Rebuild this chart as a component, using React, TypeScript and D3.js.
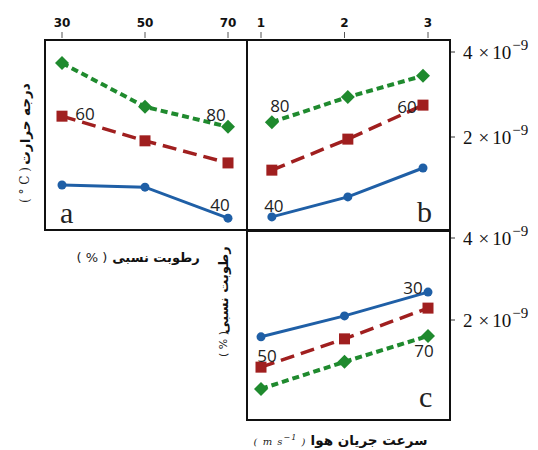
import React from "react";
import * as d3 from "d3";

// Panel a: x = relative humidity (%), series = temperature (°C)
const humidityA = [30, 50, 70];
const a_T40 = [0.87, 0.82, 0.09];
const a_T60 = [2.49, 1.91, 1.39];
const a_T80 = [3.74, 2.71, 2.24];

// Panel b: x = air velocity (m/s), series = temperature (°C)
const velocityB = [1.13, 2.04, 2.94];
const b_T40 = [0.12, 0.59, 1.27];
const b_T60 = [1.22, 1.95, 2.75];
const b_T80 = [2.35, 2.94, 3.44];

// Panel c: x = air velocity (m/s), series = relative humidity (%)
const velocityC = [1, 2, 3];
const c_H30 = [1.59, 2.1, 2.68];
const c_H50 = [0.85, 1.54, 2.29];
const c_H70 = [0.32, 0.98, 1.61];

const topTicksA = [30, 50, 70];
const topTicksB = [1, 2, 3];
const rightTicks = [2, 4]; // ×10^-9

const BLUE = "#1f5fa6";
const RED = "#a01f1f";
const GREEN = "#1f8a2e";

type Style = { color: string; dash: string | null; width: number; marker: "circle" | "square" | "diamond" };
const styleBlue: Style = { color: BLUE, dash: null, width: 3, marker: "circle" };
const styleRed: Style = { color: RED, dash: "14,7", width: 3.5, marker: "square" };
const styleGreen: Style = { color: GREEN, dash: "7,4", width: 4, marker: "diamond" };

function Series({ xs, ys, x, y, st }: { xs: number[]; ys: number[]; x: any; y: any; st: Style }) {
  const pts: [number, number][] = xs.map((v, i) => [x(v), y(ys[i])]);
  const line = d3.line()(pts) || "";
  return (
    <g>
      <path d={line} fill="none" stroke={st.color} strokeWidth={st.width} strokeDasharray={st.dash || undefined} />
      {pts.map(([px, py], i) => {
        if (st.marker === "circle") return <circle key={i} cx={px} cy={py} r={4.5} fill={st.color} />;
        if (st.marker === "square") return <rect key={i} x={px - 5.5} y={py - 5.5} width={11} height={11} fill={st.color} />;
        return (
          <path key={i} d={`M${px},${py - 7}L${px + 7},${py}L${px},${py + 7}L${px - 7},${py}Z`} fill={st.color} />
        );
      })}
    </g>
  );
}

const lblStyle: React.CSSProperties = { fontFamily: "'Open Sans', 'DejaVu Sans', sans-serif", fontSize: 17, fill: "#222" };
const letterStyle: React.CSSProperties = { fontFamily: "'Liberation Serif', 'DejaVu Serif', serif", fontSize: 30, fill: "#222" };
const arabicStyle: React.CSSProperties = { fontFamily: "'DejaVu Sans', sans-serif", fontSize: 13.5, fontWeight: "bold", fill: "#111" };

export default function App() {
  const xA = d3.scaleLinear().domain([30, 70]).range([62, 228]);
  const xB = d3.scaleLinear().domain([1, 3]).range([261, 428]);
  const yTop = d3.scaleLinear().domain([0, 4]).range([222, 52]);
  const yC = d3.scaleLinear().domain([0, 4]).range([402, 238]);

  const lab = (t: string, px: number, py: number, dx: number, dy: number) => (
    <text x={px + dx} y={py + dy} textAnchor="middle" dominantBaseline="central" style={lblStyle}>{t}</text>
  );

  const rightAxis = (ys: any, key: string) => (
    <g key={key}>
      {rightTicks.map((t) => (
        <g key={t}>
          <line x1={450} x2={455} y1={ys(t)} y2={ys(t)} stroke="#333" strokeWidth={1} />
          <text x={463} y={ys(t) + 7} style={{ fontFamily: "'Liberation Serif', 'DejaVu Serif', serif", fontSize: 19, fill: "#111" }}>
            {t}
            <tspan dx={6}>×</tspan>
            <tspan dx={3}>10</tspan>
            <tspan dx={1} dy={-9} fontSize={15}>−9</tspan>
          </text>
        </g>
      ))}
    </g>
  );

  return (
    <svg width={538} height={450} style={{ position: "absolute", left: 0, top: 0, background: "#fff" }}>
      <rect width={538} height={450} fill="#fff" />
      {/* top axes */}
      {topTicksA.map((t) => (
        <g key={"ta" + t}>
          <line x1={xA(t)} x2={xA(t)} y1={32} y2={38} stroke="#555" strokeWidth={1} />
          <text x={xA(t)} y={23} textAnchor="middle" dominantBaseline="central" style={{ fontFamily: "'DejaVu Sans', sans-serif", fontSize: 12, fontWeight: "bold", fill: "#111" }}>{t}</text>
        </g>
      ))}
      {topTicksB.map((t) => (
        <g key={"tb" + t}>
          <line x1={xB(t)} x2={xB(t)} y1={32} y2={38} stroke="#555" strokeWidth={1} />
          <text x={xB(t)} y={23} textAnchor="middle" dominantBaseline="central" style={{ fontFamily: "'DejaVu Sans', sans-serif", fontSize: 12, fontWeight: "bold", fill: "#111" }}>{t}</text>
        </g>
      ))}
      {rightAxis(yTop, "rt")}
      {rightAxis(yC, "rc")}

      {/* panel a */}
      <Series xs={humidityA} ys={a_T40} x={xA} y={yTop} st={styleBlue} />
      <Series xs={humidityA} ys={a_T60} x={xA} y={yTop} st={styleRed} />
      <Series xs={humidityA} ys={a_T80} x={xA} y={yTop} st={styleGreen} />
      {lab("60", xA(humidityA[0]), yTop(a_T60[0]), 23, -3)}
      {lab("80", xA(humidityA[2]), yTop(a_T80[2]), -12, -12)}
      {lab("40", xA(humidityA[2]), yTop(a_T40[2]), -8, -14)}
      <text x={60} y={223} style={letterStyle}>a</text>

      {/* panel b */}
      <Series xs={velocityB} ys={b_T40} x={xB} y={yTop} st={styleBlue} />
      <Series xs={velocityB} ys={b_T60} x={xB} y={yTop} st={styleRed} />
      <Series xs={velocityB} ys={b_T80} x={xB} y={yTop} st={styleGreen} />
      {lab("80", xB(velocityB[0]), yTop(b_T80[0]), 8, -17)}
      {lab("60", xB(velocityB[2]), yTop(b_T60[2]), -16, 1)}
      {lab("40", xB(velocityB[0]), yTop(b_T40[0]), 2, -11)}
      <text x={417} y={222} style={letterStyle}>b</text>

      {/* panel c */}
      <Series xs={velocityC} ys={c_H30} x={xB} y={yC} st={styleBlue} />
      <Series xs={velocityC} ys={c_H50} x={xB} y={yC} st={styleRed} />
      <Series xs={velocityC} ys={c_H70} x={xB} y={yC} st={styleGreen} />
      {lab("30", xB(velocityC[2]), yC(c_H30[2]), -15, -5)}
      {lab("50", xB(velocityC[0]), yC(c_H50[0]), 6, -12)}
      {lab("70", xB(velocityC[2]), yC(c_H70[2]), -4, 15)}
      <text x={419} y={407} style={letterStyle}>c</text>

      {/* frames */}
      <rect x={45} y={40} width={202} height={190} fill="none" stroke="#111" strokeWidth={2} />
      <rect x={247} y={40} width={203} height={190} fill="none" stroke="#111" strokeWidth={2} />
      <rect x={247} y={231} width={203} height={189} fill="none" stroke="#111" strokeWidth={2} />

      {/* axis titles */}
      <g transform="translate(25,124) rotate(-90)">
        <text textAnchor="middle" dominantBaseline="central" style={{ ...arabicStyle, fontSize: 13.5 }}>درجه حرارت</text>
      </g>
      <g transform="translate(25,185) rotate(-90)">
        <text textAnchor="middle" dominantBaseline="central" style={{ fontFamily: "'DejaVu Serif', serif", fontSize: 12, fill: "#222" }}>( ° C )</text>
      </g>
      <text x={156} y={257} textAnchor="middle" dominantBaseline="central" style={{ ...arabicStyle, fontSize: 13 }}>رطوبت نسبی</text>
      <text x={92} y={257} textAnchor="middle" dominantBaseline="central" style={{ fontFamily: "'DejaVu Sans', sans-serif", fontSize: 13, fill: "#222" }}>( % )</text>
      <g transform="translate(223,290) rotate(-90)">
        <text textAnchor="middle" dominantBaseline="central" style={{ ...arabicStyle, fontSize: 13 }}>رطوبت نسبی</text>
      </g>
      <g transform="translate(223,344) rotate(-90)">
        <text textAnchor="middle" dominantBaseline="central" style={{ fontFamily: "'DejaVu Sans', sans-serif", fontSize: 11, fill: "#222" }}>( % )</text>
      </g>
      <text x={369} y={440} textAnchor="middle" dominantBaseline="central" style={{ ...arabicStyle, fontSize: 13.5 }}>سرعت جریان هوا</text>
      <text x={280} y={441} textAnchor="middle" dominantBaseline="central" style={{ fontFamily: "'DejaVu Serif', serif", fontSize: 10, fontStyle: "italic", fill: "#222", letterSpacing: 1 }}>
        ( m s<tspan dy={-4} fontSize={8}>−1</tspan><tspan dy={4}> )</tspan>
      </text>
    </svg>
  );
}
